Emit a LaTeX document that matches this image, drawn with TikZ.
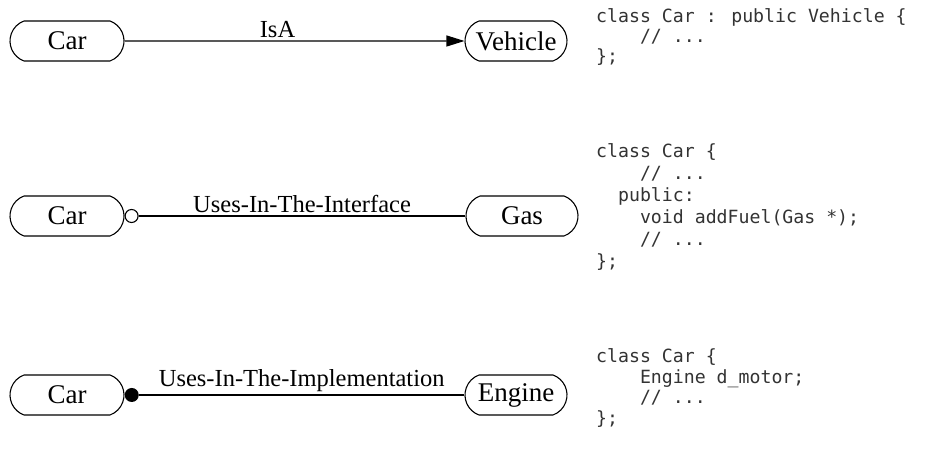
\documentclass[tikz,border=0pt]{standalone}
\usepackage{fontspec}
\setmainfont{Liberation Serif}
\newfontfamily\codefont{DejaVu Sans Mono}
\usetikzlibrary{shapes.misc,arrows.meta}
\tikzset{
  cls/.style={rounded rectangle, rounded rectangle arc length=140, draw, line width=1.1pt,
    inner sep=0pt, minimum height=40pt, font=\fontsize{27}{29}\selectfont},
  conn/.style={line width=1.1pt},
  lbl/.style={midway, above, inner sep=3pt, font=\fontsize{24.5}{26}\selectfont},
  code/.style={anchor=base west, inner sep=0pt, text=black!80,
    font=\codefont\fontsize{18.2}{21}\selectfont},
  ocirc/.style={circle, draw, line width=1.1pt, inner sep=0pt, minimum size=13pt, fill=white},
  fcirc/.style={circle, fill, inner sep=0pt, minimum size=14pt},
}
\begin{document}
\begin{tikzpicture}[x=1pt,y=1pt]
\useasboundingbox (0,0) rectangle (943,449);
% row 1
\node[cls, minimum width=114pt] (car1) at (67,408) {Car};
\node[cls, minimum width=102pt] (veh) at (516,408) {Vehicle};
\draw[conn, -{Triangle[length=18pt,width=11pt]}] (car1) -- node[lbl, pos=0.45] (isa) {IsA} (veh);
% row 2
\node[cls, minimum width=114pt] (car2) at (67,233) {Car};
\node[cls, minimum width=112pt] (gas) at (522,233) {Gas};
\node[ocirc, anchor=west] (oc) at (car2.east) {};
\draw[conn] (oc) -- node[lbl] (uif) {Uses-In-The-Interface} (gas);
% row 3
\node[cls, minimum width=114pt] (car3) at (67,54) {Car};
\node[cls, minimum width=102pt] (eng) at (516,54) {Engine};
\node[fcirc, anchor=west] (fc) at (car3.east) {};
\draw[conn] (fc) -- node[lbl] (uim) {Uses-In-The-Implementation} (eng);
% code block 1
\node[code] (c1a) at (596,426) {class Car : public Vehicle \{};
\node[code] (c1b) at (596,406) {\phantom{xxxx}// ...};
\node[code] (c1c) at (596,386) {\};};
% code block 2
\node[code] (c2a) at (596,291) {class Car \{};
\node[code] (c2b) at (596,269) {\phantom{xxxx}// ...};
\node[code] (c2c) at (596,247) {\phantom{xx}public:};
\node[code] (c2d) at (596,225) {\phantom{xxxx}void addFuel(Gas *);};
\node[code] (c2e) at (596,203) {\phantom{xxxx}// ...};
\node[code] (c2f) at (596,181) {\};};
% code block 3
\node[code] (c3a) at (596,86) {class Car \{};
\node[code] (c3b) at (596,65.5) {\phantom{xxxx}Engine d\_motor;};
\node[code] (c3c) at (596,45) {\phantom{xxxx}// ...};
\node[code] (c3d) at (596,24.5) {\};};
\end{tikzpicture}
\end{document}
